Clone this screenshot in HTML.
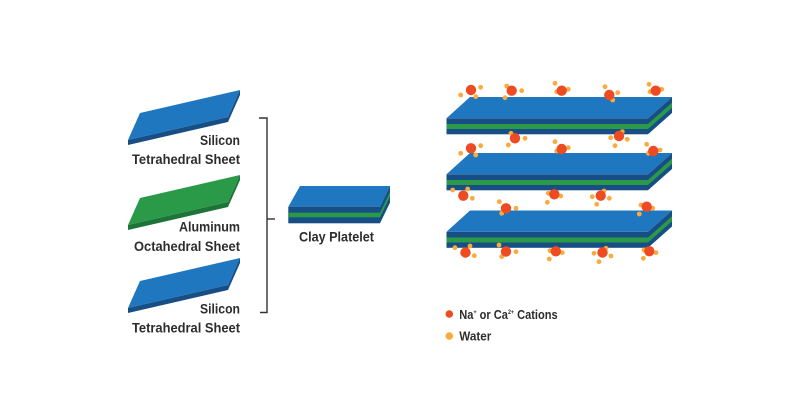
<!DOCTYPE html>
<html>
<head>
<meta charset="utf-8">
<style>
html,body{margin:0;padding:0;background:#fff;}
body{width:800px;height:409px;overflow:hidden;}
svg{display:block;}
text{font-family:"Liberation Sans",sans-serif;font-weight:bold;fill:#2d2d2d;}
</style>
</head>
<body>
<svg width="800" height="409" viewBox="0 0 800 409" xmlns="http://www.w3.org/2000/svg">
<rect width="800" height="409" fill="#fff"/>

<!-- Left sheets -->
<g>
  <polygon points="140,113 240,90 228,117 128,140" fill="#1f77bf"/>
  <polygon points="128,140 228,117 240,90 240,95 228,122 128,145" fill="#174e86"/>
</g>
<g transform="translate(0,85)">
  <polygon points="140,113 240,90 228,117 128,140" fill="#2a9a48"/>
  <polygon points="128,140 228,117 240,90 240,95 228,122 128,145" fill="#1d7438"/>
</g>
<g transform="translate(0,168)">
  <polygon points="140,113 240,90 228,117 128,140" fill="#1f77bf"/>
  <polygon points="128,140 228,117 240,90 240,95 228,122 128,145" fill="#174e86"/>
</g>

<text x="240" y="145" font-size="14" text-anchor="end" textLength="40" lengthAdjust="spacingAndGlyphs">Silicon</text>
<text x="240" y="164" font-size="14" text-anchor="end" textLength="108" lengthAdjust="spacingAndGlyphs">Tetrahedral Sheet</text>
<text x="240" y="231.7" font-size="14" text-anchor="end" textLength="61" lengthAdjust="spacingAndGlyphs">Aluminum</text>
<text x="240" y="251" font-size="14" text-anchor="end" textLength="106" lengthAdjust="spacingAndGlyphs">Octahedral Sheet</text>
<text x="240" y="313.3" font-size="14" text-anchor="end" textLength="40" lengthAdjust="spacingAndGlyphs">Silicon</text>
<text x="240" y="332.7" font-size="14" text-anchor="end" textLength="108" lengthAdjust="spacingAndGlyphs">Tetrahedral Sheet</text>

<!-- Bracket -->
<g stroke="#333" stroke-width="1.4" fill="none">
  <polyline points="259,118 267,118 267,312.5 260,312.5"/>
  <line x1="267" y1="219" x2="275" y2="219"/>
</g>

<!-- Clay platelet -->
<g>
  <polygon points="288.3,206.7 300,186 390,186 380,206.7" fill="#1f77bf"/>
  <rect x="288.3" y="206.7" width="91.7" height="16.6" fill="#174e86"/>
  <rect x="288.3" y="212.7" width="91.7" height="4.6" fill="#2a9a48"/>
  <polygon points="380,206.7 390,186 390,202.6 380,223.3" fill="#174e86"/>
  <polygon points="380,212.7 390,192 390,196.6 380,217.3" fill="#2a9a48"/>
</g>
<text x="299" y="241.7" font-size="14" textLength="75" lengthAdjust="spacingAndGlyphs">Clay Platelet</text>

<!-- Stacks -->
<g id="stack">
  <polygon points="446.5,118.3 470,97 672,97 648,118.3" fill="#1f77bf"/>
  <rect x="446.5" y="118.3" width="201.5" height="16" fill="#174e86"/>
  <rect x="446.5" y="124" width="201.5" height="5" fill="#2a9a48"/>
  <polygon points="648,118.3 672,97 672,113 648,134.3" fill="#174e86"/>
  <polygon points="648,124 672,102.7 672,107.7 648,129" fill="#2a9a48"/>
</g>
<g transform="translate(0,56)">
  <polygon points="446.5,118.3 470,97 672,97 648,118.3" fill="#1f77bf"/>
  <rect x="446.5" y="118.3" width="201.5" height="16" fill="#174e86"/>
  <rect x="446.5" y="124" width="201.5" height="5" fill="#2a9a48"/>
  <polygon points="648,118.3 672,97 672,113 648,134.3" fill="#174e86"/>
  <polygon points="648,124 672,102.7 672,107.7 648,129" fill="#2a9a48"/>
</g>
<g transform="translate(0,113.5)">
  <polygon points="446.5,118.3 470,97 672,97 648,118.3" fill="#1f77bf"/>
  <rect x="446.5" y="118.3" width="201.5" height="16" fill="#174e86"/>
  <rect x="446.5" y="124" width="201.5" height="5" fill="#2a9a48"/>
  <polygon points="648,118.3 672,97 672,113 648,134.3" fill="#174e86"/>
  <polygon points="648,124 672,102.7 672,107.7 648,129" fill="#2a9a48"/>
</g>

<!-- Water molecules -->
<g fill="#fbab3d">
  <!-- above stack 1 -->
  <circle cx="480.7" cy="87.3" r="2.4"/><circle cx="460.7" cy="95" r="2.4"/><circle cx="475.7" cy="96.7" r="2.4"/>
  <circle cx="506.7" cy="86" r="2.4"/><circle cx="521.7" cy="90.7" r="2.4"/><circle cx="505" cy="97.7" r="2.4"/>
  <circle cx="555" cy="83.3" r="2.4"/><circle cx="568.3" cy="89.3" r="2.4"/><circle cx="556.7" cy="91.7" r="2.4"/>
  <circle cx="605" cy="86.7" r="2.4"/><circle cx="617.7" cy="92.7" r="2.4"/><circle cx="612.7" cy="100" r="2.4"/>
  <circle cx="649" cy="84.3" r="2.4"/><circle cx="661.7" cy="89.3" r="2.4"/><circle cx="650" cy="91.7" r="2.4"/>
  <!-- between 1 and 2 -->
  <circle cx="511" cy="133.3" r="2.4"/><circle cx="525" cy="138.3" r="2.4"/><circle cx="508.3" cy="145" r="2.4"/>
  <circle cx="622.3" cy="131.7" r="2.4"/><circle cx="610.7" cy="137.7" r="2.4"/><circle cx="627.3" cy="139.3" r="2.4"/><circle cx="615" cy="145.7" r="2.4"/>
  <circle cx="480.7" cy="145.7" r="2.4"/><circle cx="460.7" cy="153.3" r="2.4"/><circle cx="475.7" cy="155" r="2.4"/>
  <circle cx="555" cy="141.7" r="2.4"/><circle cx="568.3" cy="147.7" r="2.4"/><circle cx="556.7" cy="151" r="2.4"/>
  <circle cx="646.7" cy="144.3" r="2.4"/><circle cx="660" cy="150" r="2.4"/><circle cx="648.3" cy="153.3" r="2.4"/>
  <!-- between 2 and 3 -->
  <circle cx="452.7" cy="190" r="2.4"/><circle cx="467.7" cy="189" r="2.4"/><circle cx="472.3" cy="198.3" r="2.4"/>
  <circle cx="548.3" cy="193.3" r="2.4"/><circle cx="560.7" cy="196" r="2.4"/><circle cx="547.3" cy="202.3" r="2.4"/>
  <circle cx="604" cy="191" r="2.4"/><circle cx="592.3" cy="196.7" r="2.4"/><circle cx="609.3" cy="198.3" r="2.4"/><circle cx="596.7" cy="204.3" r="2.4"/>
  <circle cx="499.3" cy="201.7" r="2.4"/><circle cx="516" cy="208.3" r="2.4"/><circle cx="501.7" cy="213.3" r="2.4"/>
  <circle cx="641" cy="205" r="2.4"/><circle cx="652.7" cy="208.3" r="2.4"/><circle cx="639.3" cy="214" r="2.4"/>
  <!-- below stack 3 -->
  <circle cx="455" cy="247.7" r="2.4"/><circle cx="470" cy="246" r="2.4"/><circle cx="474.3" cy="255.7" r="2.4"/>
  <circle cx="499" cy="245" r="2.4"/><circle cx="516" cy="251.7" r="2.4"/><circle cx="501.7" cy="256.7" r="2.4"/>
  <circle cx="550" cy="250.7" r="2.4"/><circle cx="562.3" cy="252.7" r="2.4"/><circle cx="549.3" cy="259" r="2.4"/>
  <circle cx="606" cy="248.3" r="2.4"/><circle cx="594" cy="253.3" r="2.4"/><circle cx="611" cy="256" r="2.4"/><circle cx="599" cy="261.7" r="2.4"/>
  <circle cx="644" cy="250" r="2.4"/><circle cx="656" cy="252.7" r="2.4"/><circle cx="643.3" cy="258.3" r="2.4"/>
</g>

<!-- Cations -->
<g fill="#ef4b23">
  <circle cx="471" cy="90" r="5.2"/><circle cx="511.7" cy="90.7" r="5.2"/><circle cx="561.7" cy="90.7" r="5.2"/><circle cx="609.3" cy="95" r="5.2"/><circle cx="655.7" cy="90.7" r="5.2"/>
  <circle cx="515" cy="138.3" r="5.2"/><circle cx="619" cy="136" r="5.2"/>
  <circle cx="471" cy="148.3" r="5.2"/><circle cx="561.7" cy="149" r="5.2"/><circle cx="653.3" cy="151" r="5.2"/>
  <circle cx="463.3" cy="195.7" r="5.2"/><circle cx="554.3" cy="194.3" r="5.2"/><circle cx="600.7" cy="195.7" r="5.2"/>
  <circle cx="506" cy="208.3" r="5.2"/><circle cx="646.7" cy="206.7" r="5.2"/>
  <circle cx="465.5" cy="252.5" r="5.2"/><circle cx="506" cy="251.5" r="5.2"/><circle cx="555.8" cy="251.3" r="5.2"/><circle cx="602.5" cy="252.5" r="5.2"/><circle cx="649.3" cy="251.2" r="5.2"/>
</g>

<!-- Legend -->
<circle cx="449.3" cy="314" r="3.8" fill="#ef4b23"/>
<circle cx="449.3" cy="336" r="3.8" fill="#fbab3d"/>
<text x="459.3" y="319" font-size="12.5" textLength="98.4" lengthAdjust="spacingAndGlyphs">Na<tspan font-size="6" dy="-5">+</tspan><tspan dy="5"> or Ca</tspan><tspan font-size="6" dy="-5">2+</tspan><tspan dy="5"> Cations</tspan></text>
<text x="459.3" y="340.7" font-size="12.5" textLength="32" lengthAdjust="spacingAndGlyphs">Water</text>
</svg>
</body>
</html>
